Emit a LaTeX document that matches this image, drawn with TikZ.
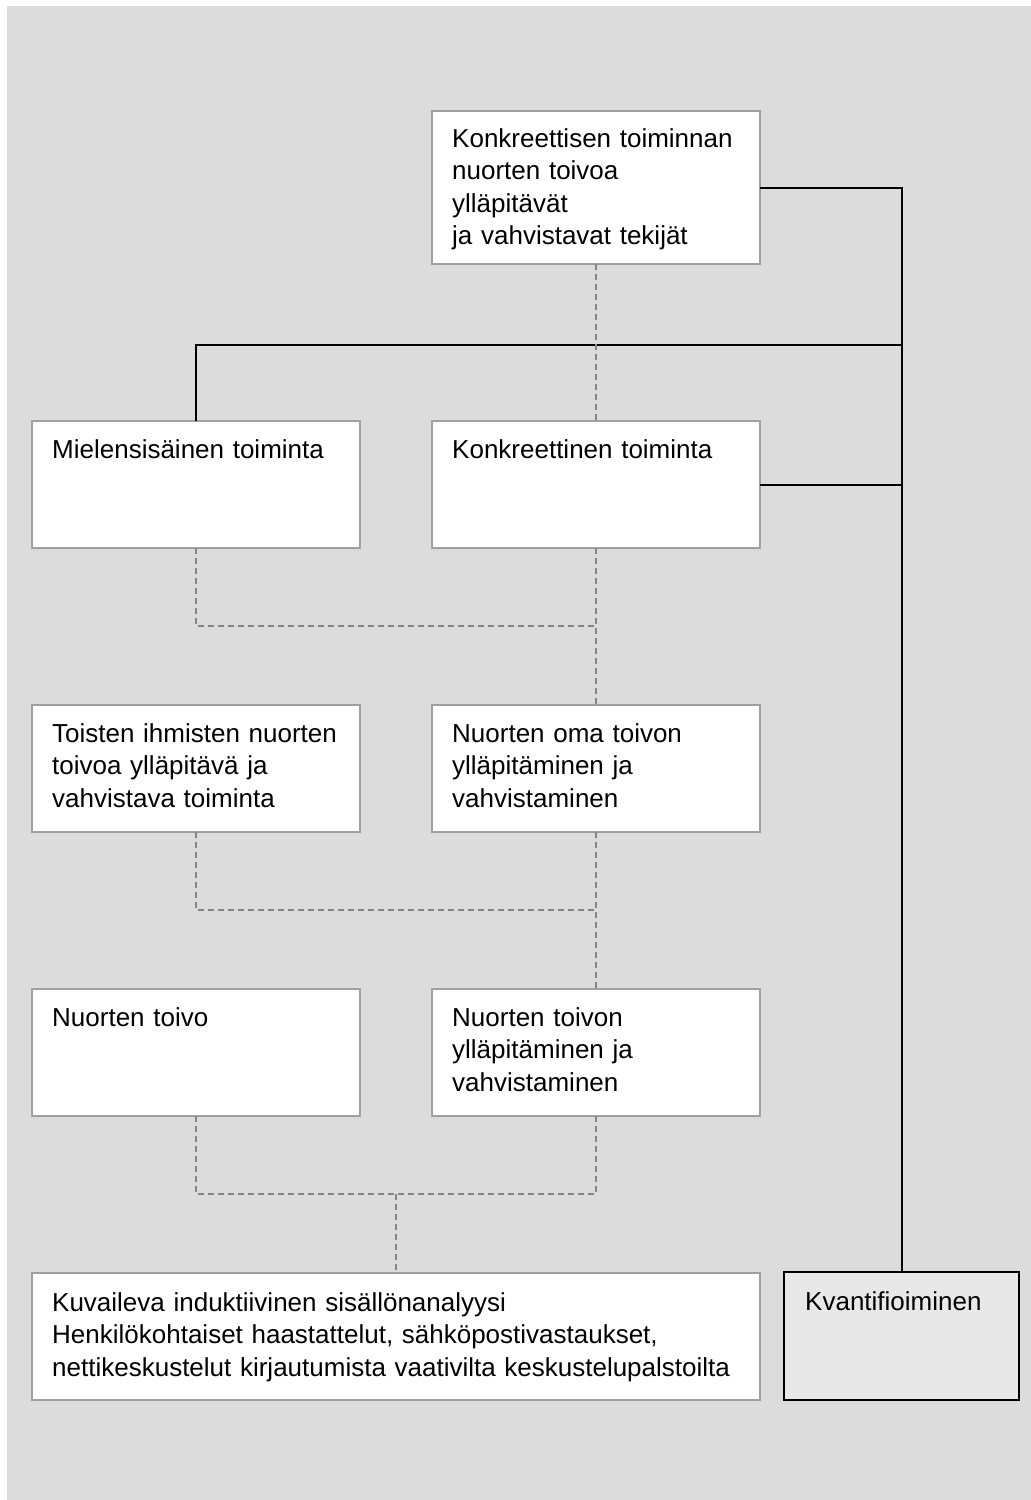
\documentclass[tikz,border=0pt]{standalone}
\usepackage{fontspec}
\setmainfont{Liberation Sans}
\definecolor{pagebg}{HTML}{DCDCDC}
\definecolor{boxedge}{HTML}{A0A0A0}
\definecolor{dashgray}{HTML}{858585}
\definecolor{quantfill}{HTML}{E8E8E8}
\begin{document}
\begin{tikzpicture}[x=1pt,y=-1pt,
  wbox/.style={draw=boxedge, line width=2.5pt, fill=white, rectangle, inner sep=0pt, outer sep=0pt, anchor=north west},
  qbox/.style={draw=black, line width=2.5pt, fill=quantfill, rectangle, inner sep=0pt, outer sep=0pt, anchor=north west},
  txt/.style={inner sep=0pt, anchor=base west, align=left, font=\fontsize{26}{32.6}\selectfont},
  solidline/.style={draw=black, line width=2pt},
  dashline/.style={draw=dashgray, line width=2pt, dash pattern=on 6pt off 4pt}]
% page
\fill[white] (0,0) rectangle (1031,1500);
\fill[pagebg] (7,6) rectangle (1031,1500);
\useasboundingbox (0,0) rectangle (1031,1500);

% boxes
\node[wbox, minimum width=328, minimum height=153] (top) at (432,111) {};
\node[wbox, minimum width=328, minimum height=127] (mielen) at (32,421) {};
\node[wbox, minimum width=328, minimum height=127] (konk) at (432,421) {};
\node[wbox, minimum width=328, minimum height=127] (toisten) at (32,705) {};
\node[wbox, minimum width=328, minimum height=127] (oma) at (432,705) {};
\node[wbox, minimum width=328, minimum height=127] (toivo) at (32,989) {};
\node[wbox, minimum width=328, minimum height=127] (toivon) at (432,989) {};
\node[wbox, minimum width=728, minimum height=127] (analyysi) at (32,1273) {};
\node[qbox, minimum width=235, minimum height=128] (kvant) at (784,1272) {};

% texts
\node[txt, text width=300] (topT) at (452,147) {Konkreettisen toiminnan\\nuorten toivoa\\ylläpitävät\\ja vahvistavat tekijät};
\node[txt, text width=300] (mielenT) at (52,458) {Mielensisäinen toiminta};
\node[txt, text width=300] (konkT) at (452,458) {Konkreettinen toiminta};
\node[txt, text width=310] (toistenT) at (52,742) {Toisten ihmisten nuorten\\toivoa ylläpitävä ja\\vahvistava toiminta};
\node[txt, text width=300] (omaT) at (452,742) {Nuorten oma toivon\\ylläpitäminen ja\\vahvistaminen};
\node[txt, text width=300] (toivoT) at (52,1026) {Nuorten toivo};
\node[txt, text width=300] (toivonT) at (452,1026) {Nuorten toivon\\ylläpitäminen ja\\vahvistaminen};
\node[txt, text width=700] (analyysiT) at (52,1311) {Kuvaileva induktiivinen sisällönanalyysi\\Henkilökohtaiset haastattelut, sähköpostivastaukset,\\nettikeskustelut kirjautumista vaativilta keskustelupalstoilta};
\node[txt, text width=210] (kvantT) at (805,1310) {Kvantifioiminen};

% solid connectors towards the quantification box
\coordinate (jH) at (kvant.north |- 0,345);
\draw[solidline] (top.east) -- (top.east -| kvant.north) -- (kvant.north);
\draw[solidline] (mielen.north) -- (mielen.north |- jH) -- (jH);
\draw[solidline] (konk.east) -- (konk.east -| kvant.north);

% dashed hierarchy connectors
\coordinate (r1) at (0,626);
\coordinate (r2) at (0,910);
\coordinate (r3) at (0,1194);
\draw[dashline] (top.south) -- (konk.north);
\draw[dashline] (mielen.south) -- (mielen.south |- r1) -- (konk.south |- r1);
\draw[dashline] (konk.south) -- (oma.north);
\draw[dashline] (toisten.south) -- (toisten.south |- r2) -- (oma.south |- r2);
\draw[dashline] (oma.south) -- (toivon.north);
\draw[dashline] (toivo.south) -- (toivo.south |- r3) -- (toivon.south |- r3) -- (toivon.south);
\draw[dashline] (analyysi.north |- r3) -- (analyysi.north);
\end{tikzpicture}
\end{document}
